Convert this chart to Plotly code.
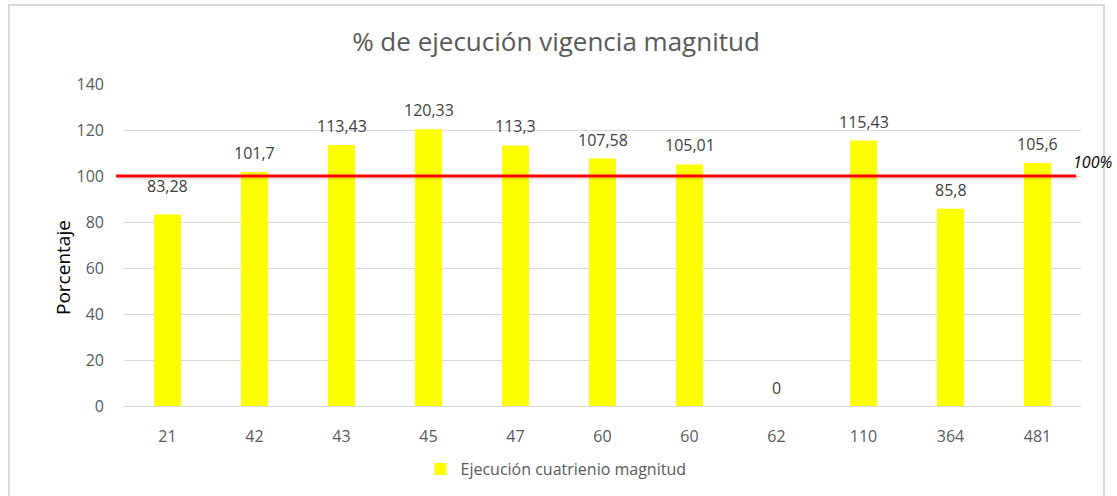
import plotly.graph_objects as go

categories = ["21", "42", "43", "45", "47", "60", "60", "62", "110", "364", "481"]
values = [83.28, 101.7, 113.43, 120.33, 113.3, 107.58, 105.01, 0, 115.43, 85.8, 105.6]
y_ticks = [0, 20, 40, 60, 80, 100, 120, 140]
target = 100
series_name = "Ejecución cuatrienio magnitud"
title = "% de ejecución vigencia magnitud"
y_title = "Porcentaje"

positions = list(range(len(categories)))
labels = [str(v).replace(".", ",") for v in values]
label_shift = [28, 19, 19, 19, 19, 19, 19, 18, 19, 19, 19]

FONT = "Open Sans"
GRAY = "#595959"

fig = go.Figure()
fig.add_trace(go.Bar(
    x=positions, y=values, name=series_name,
    marker=dict(color="#FFFF00", line=dict(width=0)),
    width=0.31,
))

# plot area in pixels: x 124..1081, y 84..406
L, R, T, B = 124, 1081, 84, 406
W, H = R - L, B - T
px = lambda p: (p - L) / W
py = lambda p: (B - p) / H

shapes = [
    dict(type="rect", xref="paper", yref="paper",
         x0=px(9), x1=px(1104), y0=py(510), y1=py(5),
         line=dict(color="#D9D9D9", width=2), fillcolor="rgba(0,0,0,0)", layer="below"),
    dict(type="line", xref="paper", yref="y",
         x0=px(118), x1=px(1078), y0=target - 0.9, y1=target - 0.9,
         line=dict(color="rgba(0,0,0,0.08)", width=4)),
    dict(type="line", xref="paper", yref="y",
         x0=px(116), x1=px(1076), y0=target, y1=target,
         line=dict(color="#FF0000", width=3)),
]

annotations = [dict(text=t, x=xp, y=v, xref="x", yref="y", showarrow=False,
                    yanchor="middle", yshift=s,
                    font=dict(family=FONT, size=16, color="#404040"))
               for xp, v, t, s in zip(positions, values, labels, label_shift)]
annotations.append(dict(text="<i>100%</i>", xref="paper", yref="y",
                        x=px(1071), y=target, xanchor="left", yanchor="bottom",
                        yshift=1, showarrow=False,
                        font=dict(family=FONT, size=16, color="#000000")))
annotations.append(dict(text=y_title, xref="paper", yref="paper",
                        x=px(63), y=py(267), xanchor="center", yanchor="middle",
                        textangle=-90, showarrow=False,
                        font=dict(family=FONT, size=19, color="#000000")))

fig.update_layout(
    width=1117, height=496,
    margin=dict(l=L, r=1117 - R, t=T, b=496 - B, autoexpand=False),
    paper_bgcolor="white", plot_bgcolor="white",
    title=dict(text=title, x=556 / 1117, xref="container", xanchor="center",
               y=1 - 42 / 496, yanchor="middle", yref="container",
               font=dict(family=FONT, size=26, color=GRAY)),
    font=dict(family=FONT, color=GRAY),
    showlegend=True,
    legend=dict(orientation="h", x=556 / 1117, xanchor="center", xref="container",
                y=py(469), yanchor="middle", yref="paper",
                font=dict(family=FONT, size=16, color=GRAY),
                itemwidth=30, traceorder="normal"),
    shapes=shapes,
    annotations=annotations,
    bargap=0.69,
)
fig.update_xaxes(tickmode="array", tickvals=positions, ticktext=categories,
                 range=[-0.5, len(categories) - 0.5], showgrid=False,
                 showline=True, linecolor="#D9D9D9", linewidth=1,
                 ticks="", tickfont=dict(family=FONT, size=16, color=GRAY), ticklabelstandoff=16)
fig.update_yaxes(range=[0, 140], tickmode="array", tickvals=y_ticks,
                 showgrid=True, gridcolor="#D9D9D9", gridwidth=1, zeroline=False,
                 showline=False, ticks="", tickfont=dict(family=FONT, size=16, color=GRAY),
                 ticklabelstandoff=19)

fig.write_html("out.html", config={"displayModeBar": False},
               post_script="document.body.style.margin='0';")
